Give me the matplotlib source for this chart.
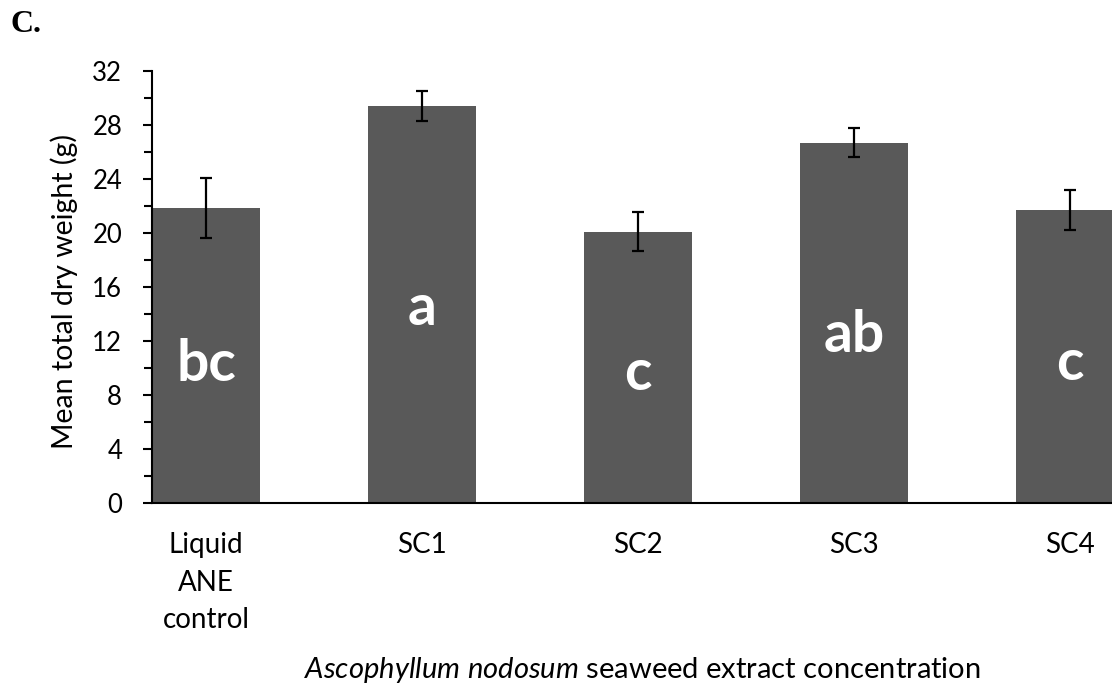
import matplotlib
matplotlib.use("Agg")
import matplotlib.pyplot as plt
import numpy as np

# ---- data ----
categories = ["Liquid\nANE\ncontrol", "SC1", "SC2", "SC3", "SC4"]
means = [21.85, 29.4, 20.1, 26.7, 21.67]
errors = [2.25, 1.1, 1.46, 1.08, 1.48]
letters = ["bc", "a", "c", "ab", "c"]
letter_y = [9.06, 13.19, 8.37, 11.2, 9.11]
yticks = [0, 4, 8, 12, 16, 20, 24, 28, 32]

plt.rcParams['font.family'] = ['Lato', 'DejaVu Sans']
plt.rcParams['mathtext.fontset'] = 'custom'
plt.rcParams['mathtext.rm'] = 'Lato'
plt.rcParams['mathtext.it'] = 'Lato:italic'

W, H = 1112, 684
fig = plt.figure(figsize=(W / 100, H / 100), dpi=100)
ax = fig.add_axes([152 / W, 181 / H, 972 / W, 432 / H])

x = np.arange(len(categories))
ax.bar(x, means, width=0.5, color="#595959", edgecolor="none", zorder=2)
ax.errorbar(x, means, yerr=errors, fmt="none", ecolor="black",
            elinewidth=1.6, capsize=4.3, capthick=1.6, zorder=3)

for xi, lab, ly in zip(x, letters, letter_y):
    ax.text(xi, ly, lab, color="white", fontsize=41, fontweight="bold",
            ha="center", va="baseline", zorder=4)

ax.set_xlim(-0.25, 4.25)
ax.set_ylim(0, 32)
ax.set_yticks(yticks)
ax.set_yticks(np.arange(2, 32, 4), minor=True)
ax.set_xticks(x)
ax.set_xticklabels(categories, fontsize=20)
for lbl in ax.get_xticklabels():
    lbl.set_linespacing(1.55)

for s in ["top", "right"]:
    ax.spines[s].set_visible(False)
for s in ["left", "bottom"]:
    ax.spines[s].set_linewidth(1.5)
    ax.spines[s].set_color("black")

ax.tick_params(axis="y", which="major", length=6.5, width=1.5, labelsize=18.5, pad=15, direction="out")
ax.tick_params(axis="y", which="minor", length=5.5, width=1.5, direction="out")
ax.tick_params(axis="x", which="both", length=0, pad=21)

fig.text(64 / W, 1 - 292 / H, "Mean total dry weight (g)", rotation=90,
         ha="center", va="center", fontsize=20.5)
fig.text(642 / W, 1 - 678 / H,
         r"$\it{Ascophyllum\ nodosum}$ seaweed extract concentration",
         ha="center", va="baseline", fontsize=21)
fig.text(11 / W, 1 - 32.3 / H, "C.", family="Liberation Serif",
         fontweight="bold", fontsize=23, ha="left", va="baseline")

fig.savefig("out.png", dpi=100)
